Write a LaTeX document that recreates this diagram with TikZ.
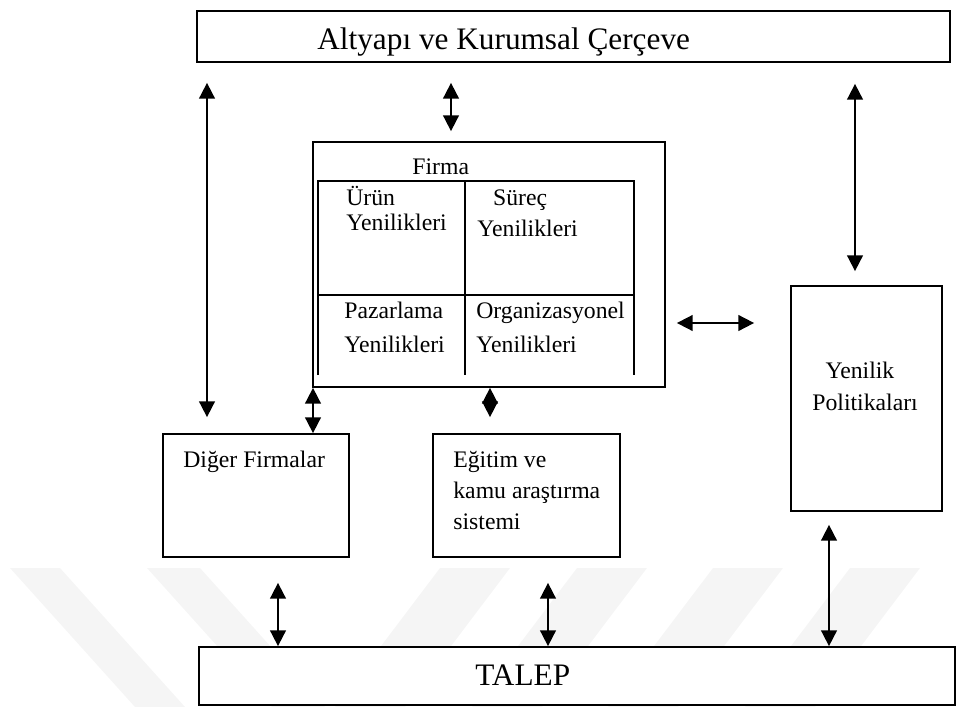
\documentclass[tikz,border=0pt]{standalone}
\usepackage{fontspec}
\setmainfont{Liberation Serif}
\usepackage{tikz}
\usetikzlibrary{arrows.meta, fit}

\begin{document}
\begin{tikzpicture}[
      x=0.2mm, y=-0.2mm,
      box/.style={draw, line width=1pt, fill=white, inner sep=0pt},
      lbl/.style={font=\fontsize{13.5pt}{16pt}\selectfont, inner sep=0pt,
                  align=left, anchor=base west},
      big/.style={font=\fontsize{17.8pt}{21pt}\selectfont, inner sep=0pt,
                  anchor=base west},
      both/.style={{Triangle[length=9pt,width=9pt]}-{Triangle[length=9pt,width=9pt]},
                   line width=1pt},
      wm/.style={fill=black!4, draw=none}
    ]
    \useasboundingbox (0,0) rectangle (960,707);

    % Watermark stripes
    \fill[wm] (10,568) -- (60,568) -- (185,707) -- (135,707) -- cycle;
    \fill[wm] (147,568) -- (200,568) -- (325,707) -- (272,707) -- cycle;
    \foreach \xa in {440,577,713,850}
      \fill[wm] (\xa,568) -- (\xa+70,568) -- (\xa-35,707) -- (\xa-105,707) -- cycle;

    % Boxes
    \node[box, fit={(197,11) (950,62)}]   (altyapi)  {};
    \node[box, fit={(313,142) (665,387)}] (firma)    {};
    \node[box, fit={(791,286) (942,511)}] (politika) {};
    \node[box, fit={(163,434) (349,557)}] (diger)    {};
    \node[box, fit={(433,434) (620,557)}] (egitim)   {};
    \node[box, fit={(199,647) (955,705)}] (talep)    {};

    % Inner grid of the firm (open at the bottom)
    \draw[line width=1pt] (318,375) -- (318,181) -- (634,181) -- (634,375);
    \draw[line width=1pt] (465,181) -- (465,375);
    \draw[line width=1pt] (318,295) -- (634,295);

    % Texts (base = last line)
    \node[big] (altyapilbl) at (317,50) {Altyapı ve Kurumsal Çerçeve};
    \node[big] (taleplbl)   at (475,685) {TALEP};
    \node[lbl] (firmalbl)   at (412,175) {Firma};
    \node[lbl, font=\fontsize{13.5pt}{14.2pt}\selectfont] (urun) at (346,230) {Ürün\\Yenilikleri};
    \node[lbl, font=\fontsize{13.5pt}{17.6pt}\selectfont] (surec) at (477,236) {\hspace*{9pt}Süreç\\Yenilikleri};
    \node[lbl, font=\fontsize{13.5pt}{19.3pt}\selectfont] (pazar) at (344,352) {Pazarlama\\Yenilikleri};
    \node[lbl, font=\fontsize{13.5pt}{19.3pt}\selectfont] (organ) at (476,352) {Organizasyonel\\Yenilikleri};
    \node[lbl] (digerlbl)   at (183,467) {Diğer Firmalar};
    \node[lbl, font=\fontsize{13.5pt}{17.6pt}\selectfont] (egitimlbl) at (453,529) {Eğitim ve\\kamu araştırma\\sistemi};
    \node[lbl, font=\fontsize{13.5pt}{18.2pt}\selectfont] (politikalbl) at (812,410) {\hspace*{7.5pt}Yenilik\\Politikaları};

    % Connectors
    \draw[both, shorten <=4mm, shorten >=3.2mm] (207,0 |- altyapi.south) -- (207,0 |- diger.north);
    \draw[both, shorten <=4mm, shorten >=2mm] (451,0 |- altyapi.south) -- (451,0 |- firma.north);
    \draw[both, shorten <=4.2mm, shorten >=2.8mm] (855,0 |- altyapi.south) -- (855,0 |- politika.north);
    \draw[both, shorten <=2.2mm, shorten >=7.2mm] (0,323 -| firma.east) -- (0,323 -| politika.west);
    \draw[both] (313,0 |- firma.south) -- (313,0 |- diger.north);
    \draw[both, shorten >=3.2mm] (490,0 |- firma.south) -- (490,0 |- egitim.north);
    \draw[both, shorten <=5mm] (278,0 |- diger.south) -- (278,0 |- talep.north);
    \draw[both, shorten <=5mm] (548,0 |- egitim.south) -- (548,0 |- talep.north);
    \draw[both, shorten <=2.6mm] (829,0 |- politika.south) -- (829,0 |- talep.north);

  \end{tikzpicture}
\end{document}
